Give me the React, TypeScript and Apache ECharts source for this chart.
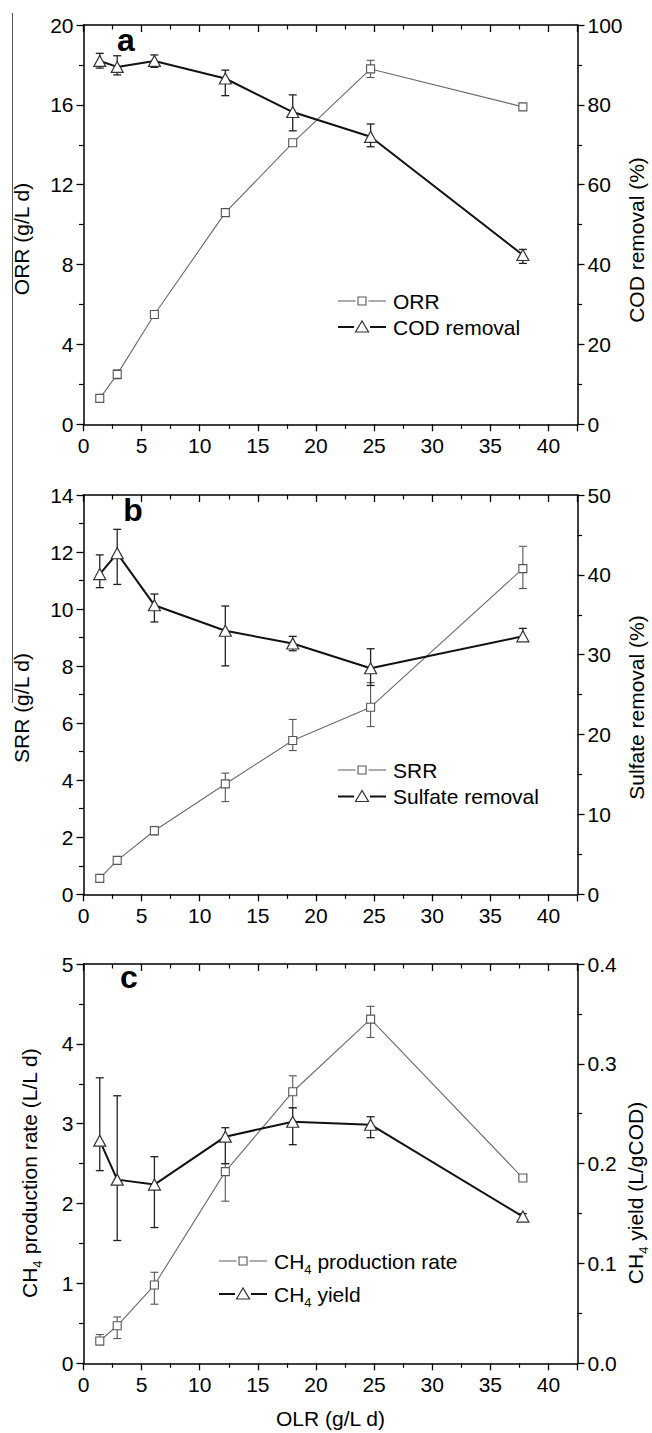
import React, { useEffect, useRef } from 'react';
import * as echarts from 'echarts';

// ---------- data ----------
const olr = [1.4, 2.9, 6.1, 12.2, 18.0, 24.7, 37.8];

// panel a
const orr = [1.3, 2.5, 5.5, 10.6, 14.1, 17.8, 15.9];
const orrErrUp = [0.1, 0.22, 0.1, 0.12, 0.1, 0.43, 0.1];
const orrErrDown = [0.1, 0.22, 0.1, 0.12, 0.1, 0.43, 0.1];
const codRemoval = [91.0, 89.5, 91.0, 86.6, 78.2, 72.0, 42.4];
const codErrUp = [1.9, 2.8, 1.5, 2.1, 4.3, 3.2, 1.4];
const codErrDown = [1.8, 2.0, 1.6, 4.3, 4.7, 2.5, 2.1];

// panel b
const srr = [0.56, 1.19, 2.23, 3.87, 5.39, 6.56, 11.42];
const srrErrUp = [0.08, 0.08, 0.15, 0.38, 0.74, 0.86, 0.78];
const srrErrDown = [0.08, 0.08, 0.15, 0.62, 0.35, 0.68, 0.7];
const sulfateRemoval = [40.1, 42.7, 36.2, 33.0, 31.4, 28.3, 32.3];
const sulfErrUp = [2.4, 3.0, 1.4, 3.1, 0.9, 2.45, 1.0];
const sulfErrDown = [1.7, 3.9, 2.1, 4.4, 0.9, 2.15, 0.5];

// panel c
const ch4Rate = [0.28, 0.47, 0.98, 2.4, 3.4, 4.31, 2.32];
const ch4RateErrUp = [0.08, 0.11, 0.16, 0.1, 0.2, 0.16, 0.03];
const ch4RateErrDown = [0.05, 0.16, 0.24, 0.37, 0.2, 0.23, 0.03];
const ch4Yield = [0.223, 0.184, 0.179, 0.227, 0.242, 0.239, 0.147];
const ch4YieldErrUp = [0.063, 0.084, 0.028, 0.009, 0.014, 0.008, 0.003];
const ch4YieldErrDown = [0.03, 0.061, 0.043, 0.027, 0.023, 0.013, 0.003];

// axis ranges
const xRange = { min: 0, max: 42.5, interval: 5 };
const leftRanges = [
  { min: 0, max: 20, interval: 4 },
  { min: 0, max: 14, interval: 2 },
  { min: 0, max: 5, interval: 1 },
];
const rightRanges = [
  { min: 0, max: 100, interval: 20 },
  { min: 0, max: 50, interval: 10 },
  { min: 0, max: 0.4, interval: 0.1 },
];

const FONT = "'Liberation Sans', Arial, Helvetica, sans-serif";
const TXT = '#000';
const GRID_LEFT = 83.5;
const GRID_W = 494;
const gridTops = [25, 495, 964];
const GRID_H = 399.3;

const axisLineStyle = { color: '#000', width: 1.5 };

function bottomX(g: number) {
  return {
    type: 'value', gridIndex: g, position: 'bottom', ...xRange,
    axisLine: { show: true, onZero: false, lineStyle: axisLineStyle },
    axisTick: { show: true, inside: false, length: 7, lineStyle: { color: '#000', width: 1.3 } },
    minorTick: { show: true, splitNumber: 2, length: 4.5, lineStyle: { color: '#000', width: 1.2 } },
    splitLine: { show: false }, minorSplitLine: { show: false },
    axisLabel: {
      show: true, margin: 11, fontSize: 21, color: TXT, fontFamily: FONT,
      formatter: (v: number) => (Math.abs(v % 5) < 1e-9 ? String(v) : ''),
    },
  };
}
function topX(g: number) {
  return {
    type: 'value', gridIndex: g, position: 'top', ...xRange,
    axisLine: { show: true, onZero: false, lineStyle: axisLineStyle },
    axisTick: { show: true, inside: true, length: 7, lineStyle: { color: '#000', width: 1.3 } },
    minorTick: { show: true, splitNumber: 2, length: 4.5, lineStyle: { color: '#000', width: 1.2 } },
    splitLine: { show: false }, minorSplitLine: { show: false },
    axisLabel: { show: false },
  };
}
function yAx(g: number, pos: 'left' | 'right', r: any, fmt?: (v: number) => string) {
  return {
    type: 'value', gridIndex: g, position: pos, ...r,
    axisLine: { show: true, onZero: false, lineStyle: axisLineStyle },
    axisTick: { show: true, inside: false, length: 7, lineStyle: { color: '#000', width: 1.3 } },
    minorTick: { show: true, splitNumber: 2, length: 4.5, lineStyle: { color: '#000', width: 1.2 } },
    splitLine: { show: false }, minorSplitLine: { show: false },
    axisLabel: { show: true, margin: 10, fontSize: 21, color: TXT, fontFamily: FONT, formatter: fmt },
  };
}

function errRender(color: string, lw: number) {
  return (params: any, api: any) => {
    const x = api.value(0);
    const lo = api.coord([x, api.value(1)]);
    const hi = api.coord([x, api.value(2)]);
    const hw = 4;
    const st = { stroke: color, lineWidth: lw };
    return {
      type: 'group',
      children: [
        { type: 'line', shape: { x1: lo[0], y1: lo[1], x2: hi[0], y2: hi[1] }, style: st },
        { type: 'line', shape: { x1: lo[0] - hw, y1: lo[1], x2: lo[0] + hw, y2: lo[1] }, style: st },
        { type: 'line', shape: { x1: hi[0] - hw, y1: hi[1], x2: hi[0] + hw, y2: hi[1] }, style: st },
      ],
    };
  };
}

function errSeries(g: number, yIdx: number, vals: number[], up: number[], dn: number[], color: string, lw: number) {
  return {
    type: 'custom', xAxisIndex: g * 2, yAxisIndex: yIdx, z: 1,
    renderItem: errRender(color, lw),
    encode: { x: 0, y: [1, 2] },
    data: olr.map((x, i) => [x, vals[i] - dn[i], vals[i] + up[i]]),
    silent: true,
  };
}
function squareSeries(g: number, name: string, vals: number[]) {
  return {
    type: 'line', name, xAxisIndex: g * 2, yAxisIndex: g * 2, z: 2,
    data: olr.map((x, i) => [x, vals[i]]),
    symbol: 'rect', symbolSize: 8,
    itemStyle: { color: '#fff', borderColor: '#555', borderWidth: 1.1 },
    lineStyle: { color: '#6a6a6a', width: 1.1 },
  };
}
function triSeries(g: number, name: string, vals: number[]) {
  return {
    type: 'line', name, xAxisIndex: g * 2, yAxisIndex: g * 2 + 1, z: 3,
    data: olr.map((x, i) => [x, vals[i]]),
    symbol: 'triangle', symbolSize: [12, 11],
    itemStyle: { color: '#fff', borderColor: '#333', borderWidth: 1.2 },
    lineStyle: { color: '#111', width: 2 },
  };
}

const richMain = (size: number) => ({ fontSize: size, fontFamily: FONT, fill: TXT, lineHeight: 30, verticalAlign: 'middle' });
const richSub = { fontSize: 13, fontFamily: FONT, fill: TXT, lineHeight: 14, verticalAlign: 'bottom' };

function vTitle(x: number, y: number, text: string, rich?: boolean) {
  return {
    type: 'text', x, y, rotation: Math.PI / 2,
    style: rich
      ? { text, align: 'center', verticalAlign: 'middle', rich: { n: richMain(21), s: richSub } }
      : { text, align: 'center', verticalAlign: 'middle', fontSize: 21, fontFamily: FONT, fill: TXT },
  };
}

function legendRow(x0: number, x1: number, xt: number, y: number, kind: 'sq' | 'tri', text: string, rich?: boolean) {
  const mid = (x0 + x1) / 2;
  const els: any[] = [];
  const isSq = kind === 'sq';
  const lstyle = { stroke: isSq ? '#6a6a6a' : '#111', lineWidth: isSq ? 1.1 : 2 };
  const gap = isSq ? 6.5 : 8;
  els.push({ type: 'line', shape: { x1: x0, y1: y, x2: mid - gap, y2: y }, style: lstyle });
  els.push({ type: 'line', shape: { x1: mid + gap, y1: y, x2: x1, y2: y }, style: lstyle });
  if (isSq) {
    els.push({ type: 'rect', shape: { x: mid - 4, y: y - 4, width: 8, height: 8 }, style: { fill: '#fff', stroke: '#555', lineWidth: 1.1 } });
  } else {
    els.push({ type: 'polygon', shape: { points: [[mid, y - 6], [mid - 6.5, y + 5], [mid + 6.5, y + 5]] }, style: { fill: '#fff', stroke: '#333', lineWidth: 1.2 } });
  }
  els.push({
    type: 'text', x: xt, y,
    style: rich
      ? { text, align: 'left', verticalAlign: 'middle', rich: { n: richMain(21), s: richSub } }
      : { text, align: 'left', verticalAlign: 'middle', fontSize: 21, fontFamily: FONT, fill: TXT },
  });
  return els;
}

function panelLabel(x: number, y: number, t: string) {
  return {
    type: 'text', x, y,
    style: { text: t, align: 'center', verticalAlign: 'middle', fontSize: 32, fontWeight: 'bold', fontFamily: FONT, fill: TXT },
  };
}

export default function App() {
  const ref = useRef<HTMLDivElement>(null);
  useEffect(() => {
    document.body.style.margin = '0';
    const chart = echarts.init(ref.current!, undefined, { renderer: 'svg' });
    const option: any = {
      animation: false,
      backgroundColor: '#fff',
      grid: gridTops.map((t) => ({ left: GRID_LEFT, top: t, width: GRID_W, height: GRID_H, containLabel: false })),
      xAxis: [bottomX(0), topX(0), bottomX(1), topX(1), bottomX(2), topX(2)],
      yAxis: [
        yAx(0, 'left', leftRanges[0]), yAx(0, 'right', rightRanges[0]),
        yAx(1, 'left', leftRanges[1]), yAx(1, 'right', rightRanges[1]),
        yAx(2, 'left', leftRanges[2]), yAx(2, 'right', rightRanges[2], (v: number) => v.toFixed(1)),
      ],
      series: [
        errSeries(0, 0, orr, orrErrUp, orrErrDown, '#555', 1.1),
        errSeries(0, 1, codRemoval, codErrUp, codErrDown, '#222', 1.3),
        squareSeries(0, 'ORR', orr),
        triSeries(0, 'COD removal', codRemoval),

        errSeries(1, 2, srr, srrErrUp, srrErrDown, '#555', 1.1),
        errSeries(1, 3, sulfateRemoval, sulfErrUp, sulfErrDown, '#222', 1.3),
        squareSeries(1, 'SRR', srr),
        triSeries(1, 'Sulfate removal', sulfateRemoval),

        errSeries(2, 4, ch4Rate, ch4RateErrUp, ch4RateErrDown, '#555', 1.1),
        errSeries(2, 5, ch4Yield, ch4YieldErrUp, ch4YieldErrDown, '#222', 1.3),
        squareSeries(2, 'CH4 production rate', ch4Rate),
        triSeries(2, 'CH4 yield', ch4Yield),
      ],
      graphic: [
        { type: 'line', shape: { x1: 12.5, y1: 13, x2: 12.5, y2: 703 }, style: { stroke: '#555', lineWidth: 1 } },
        panelLabel(126, 40, 'a'),
        panelLabel(133, 510, 'b'),
        panelLabel(129, 977, 'c'),
        vTitle(21, 239, 'ORR (g/L d)'),
        vTitle(636, 240, 'COD removal (%)'),
        vTitle(21, 708, 'SRR (g/L d)'),
        vTitle(636, 707.5, 'Sulfate removal (%)'),
        vTitle(29, 1173, '{n|CH}{s|4}{n| production rate (L/L d)}', true),
        vTitle(635, 1193, '{n|CH}{s|4}{n| yield (L/gCOD)}', true),
        { type: 'text', x: 330.5, y: 1418, style: { text: 'OLR (g/L d)', align: 'center', verticalAlign: 'middle', fontSize: 21, fontFamily: FONT, fill: TXT } },
        ...legendRow(338, 386, 393, 301, 'sq', 'ORR'),
        ...legendRow(338, 386, 393, 327, 'tri', 'COD removal'),
        ...legendRow(338, 386, 393, 770, 'sq', 'SRR'),
        ...legendRow(338, 386, 393, 796.5, 'tri', 'Sulfate removal'),
        ...legendRow(219, 267, 274, 1261, 'sq', '{n|CH}{s|4}{n| production rate}', true),
        ...legendRow(219, 267, 274, 1294, 'tri', '{n|CH}{s|4}{n| yield}', true),
      ],
    };
    chart.setOption(option);
    return () => chart.dispose();
  }, []);
  return <div ref={ref} style={{ width: 652, height: 1433 }} />;
}
